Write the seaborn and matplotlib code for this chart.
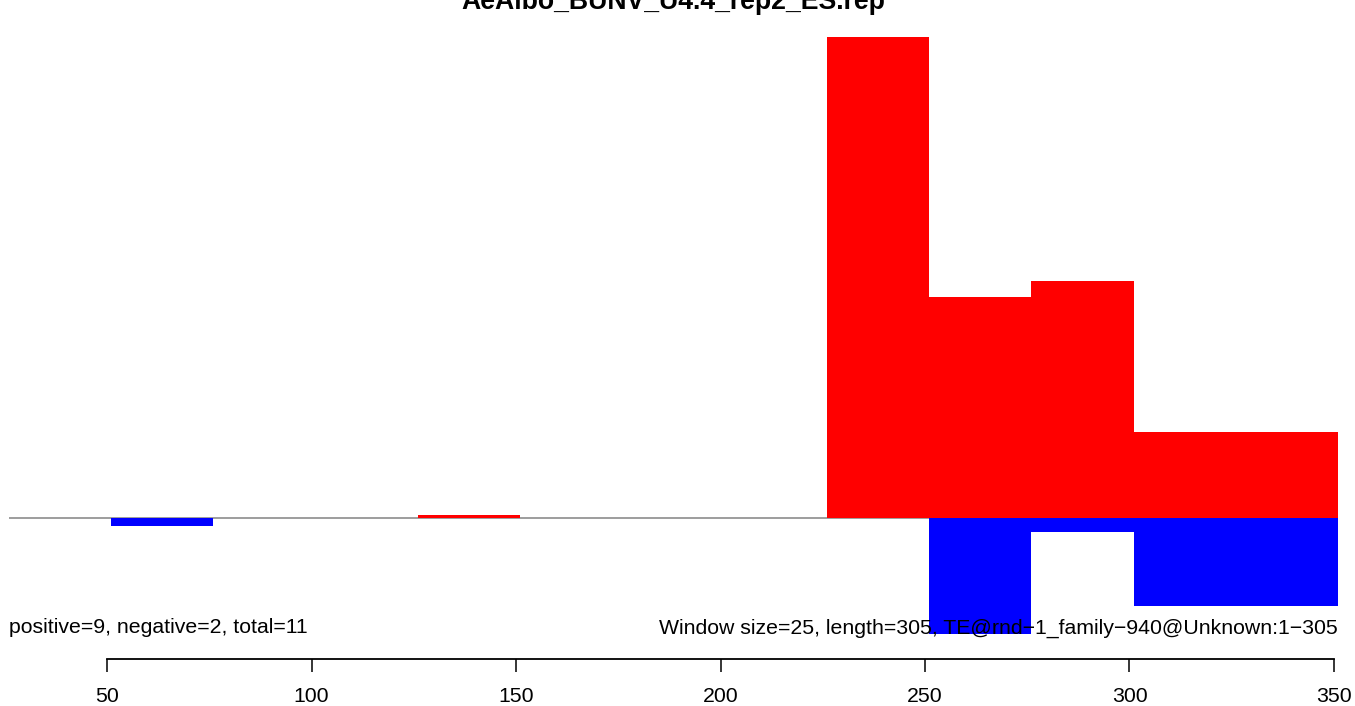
import matplotlib
matplotlib.use("Agg")
import matplotlib.pyplot as plt
import seaborn as sns
import pandas as pd

# window starts (window size 25)
window_start = [26, 51, 76, 101, 126, 151, 176, 201, 226, 251, 276, 301, 326]
positive = [0, 0, 0, 0, 3.5, 0, 0, 0, 481, 221, 237, 86, 86]
negative = [0, 7.5, 0, 0, 0, 0, 0, 0, 0, 116, 14, 88, 88]
x_ticks = [50, 100, 150, 200, 250, 300, 350]
title = "AeAlbo_BUNV_U4.4_rep2_ES.rep"
left_note = "positive=9, negative=2, total=11"
right_note = "Window size=25, length=305, TE@rnd\u22121_family\u2212940@Unknown:1\u2212305"

win = 25
df = pd.DataFrame({
    "mid": [s + win / 2 for s in window_start],
    "pos": positive,
    "neg": [-v for v in negative],
})

sns.set_theme(style="white")
plt.rcParams["font.family"] = ["Liberation Sans", "DejaVu Sans"]

fig = plt.figure(figsize=(13.55, 7.06), dpi=100)
ax = fig.add_axes([9 / 1355, 1 - 658.5 / 706, (1338 - 9) / 1355, (658.5 - 37) / 706])

x0, x1 = window_start[0], window_start[-1] + win
ax.plot([x0, x1], [0, 0], color="#8c8c8c", lw=1.2, zorder=1)

sns.barplot(data=df, x="mid", y="pos", native_scale=True, width=1, color="#ff0000",
            saturation=1, errorbar=None, linewidth=0, ax=ax, zorder=2)
sns.barplot(data=df, x="mid", y="neg", native_scale=True, width=1, color="#0000ff",
            saturation=1, errorbar=None, linewidth=0, ax=ax, zorder=2)

ax.set_xlim(x0, x1)
ax.set_ylim(-(658.5 - 518.5), 481)
ax.set_xlabel("")
ax.set_ylabel("")
ax.set_yticks([])
ax.set_xticks(x_ticks)
ax.set_xticklabels([str(t) for t in x_ticks], fontsize=15.3)
for s in ["top", "right", "left"]:
    ax.spines[s].set_visible(False)
ax.spines["bottom"].set_bounds(x_ticks[0], x_ticks[-1])
ax.spines["bottom"].set_linewidth(1.3)
ax.spines["bottom"].set_color("black")
ax.tick_params(axis="x", bottom=True, length=9, width=1.1, color="black",
               pad=11.5, labelcolor="black")

ax.text(x0, -115, left_note, ha="left", va="baseline", fontsize=15.3, color="black", zorder=5)
ax.text(x1, -115, right_note, ha="right", va="baseline", fontsize=15.3, color="black", zorder=5)

fig.text((9 + 1338) / 2 / 1355, 1 - 9 / 706, title, ha="center", va="baseline",
         fontsize=19.2, fontweight="bold", color="black")

fig.savefig("out.png", dpi=100, facecolor="white")
